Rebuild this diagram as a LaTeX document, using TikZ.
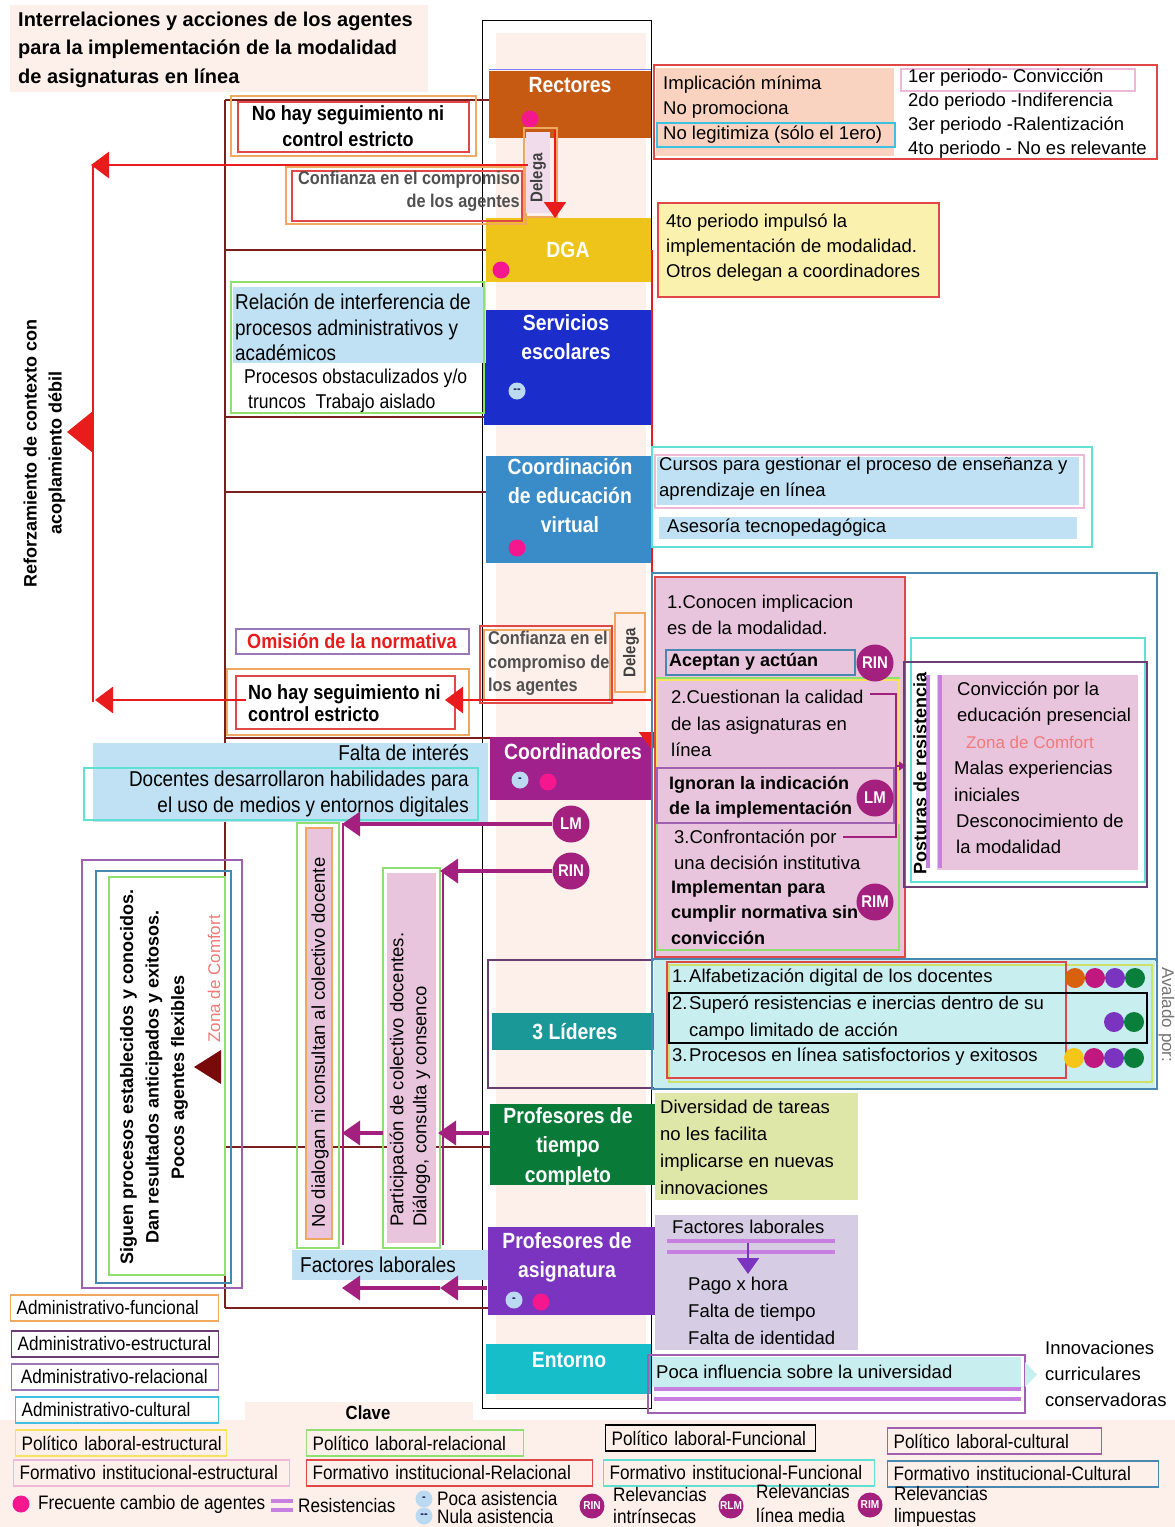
\documentclass[tikz,border=0pt]{standalone}
\usepackage{fontspec}
\setmainfont{Liberation Sans}
\newfontfamily\condfont[FakeStretch=0.88]{Liberation Sans}
\usetikzlibrary{arrows.meta}

% colores de agentes
\definecolor{rectC}{HTML}{C65A12}
\definecolor{dgaC}{HTML}{EEC41A}
\definecolor{servC}{HTML}{1B2ECB}
\definecolor{cevC}{HTML}{3A8CC8}
\definecolor{coordC}{HTML}{A0208C}
\definecolor{lidC}{HTML}{1A9898}
\definecolor{ptcC}{HTML}{0A7A38}
\definecolor{paC}{HTML}{7A34C0}
\definecolor{entC}{HTML}{16BECA}
% rellenos
\definecolor{peachbg}{HTML}{FDF0EA}
\definecolor{peachfill}{HTML}{FAD3C0}
\definecolor{lblue}{HTML}{BFE1F3}
\definecolor{lcyan}{HTML}{C9EEF0}
\definecolor{pinkfill}{HTML}{E8C5DD}
\definecolor{yelfill}{HTML}{FBF1AE}
\definecolor{olivefill}{HTML}{DEE6A8}
\definecolor{lavfill}{HTML}{D6CDE4}
% lineas y marcas
\definecolor{maroonC}{HTML}{7A1E1E}
\definecolor{redC}{HTML}{E81C1C}
\definecolor{relC}{HTML}{A3207E}
\definecolor{resC}{HTML}{C880E0}
\definecolor{pinkdot}{HTML}{F5178E}
\definecolor{asisC}{HTML}{BCD9F2}
\definecolor{comfortC}{HTML}{F07A7A}
\definecolor{triC}{HTML}{7A0A0A}
\definecolor{greyT}{HTML}{505050}
\definecolor{dotO}{HTML}{D8600E}
\definecolor{dotM}{HTML}{C0187F}
\definecolor{dotP}{HTML}{7A34C0}
\definecolor{dotG}{HTML}{0A7F3C}
\definecolor{dotY}{HTML}{F5C518}
% clave
\definecolor{afunC}{HTML}{F0A860}
\definecolor{aestC}{HTML}{6A3E72}
\definecolor{arelC}{HTML}{9A78B8}
\definecolor{acultC}{HTML}{40C0E0}
\definecolor{pestC}{HTML}{F8E060}
\definecolor{prelC}{HTML}{90E070}
\definecolor{pcultC}{HTML}{A060B0}
\definecolor{festC}{HTML}{F0B8D8}
\definecolor{frelC}{HTML}{E04848}
\definecolor{ffunC}{HTML}{60E0D0}
\definecolor{fcultC}{HTML}{4888B0}

\newcommand\ttext{\bfseries\fontsize{20}{28.5}\selectfont}
\newcommand\rtext[1][25.5]{\fontsize{18.5}{#1}\selectfont}
\newcommand\btext[1][25.5]{\bfseries\fontsize{18}{#1}\selectfont}
\newcommand\ctext[1][25.5]{\condfont\fontsize{21.5}{#1}\selectfont}
\newcommand\cbtext[1][26]{\condfont\bfseries\fontsize{20.5}{#1}\selectfont}
\newcommand\gbtext[1][23]{\condfont\bfseries\fontsize{18.5}{#1}\selectfont}
\newcommand\atext[1][29]{\condfont\bfseries\fontsize{22}{#1}\selectfont}
\newcommand\ltext[1][24]{\condfont\fontsize{19.5}{#1}\selectfont}

\tikzset{
  txt/.style={inner sep=0pt, anchor=west, align=left, font=\rtext},
  vtxt/.style={rotate=90, inner sep=0pt, anchor=west, align=left, font=\rtext},
  fr/.style={draw=#1, line width=1.3pt},
  agentbox/.style={fill=#1, inner sep=0pt, outer sep=0pt, anchor=north west},
  agentlbl/.style={inner sep=0pt, align=center, text=white, font=\atext},
  agdot/.style={circle, fill=#1, inner sep=0pt, minimum size=17pt},
  asis/.style={circle, fill=asisC, inner sep=0pt, minimum size=17pt,
    text=black!75!blue, font=\bfseries\fontsize{11}{11}\selectfont},
  rel/.style={circle, fill=relC, text=white, inner sep=0pt, minimum size=37pt,
    font=\condfont\bfseries\fontsize{17}{17}\selectfont},
  relk/.style={rel, minimum size=25pt, font=\condfont\bfseries\fontsize{11.5}{12}\selectfont},
  redarr/.style={draw=redC, line width=2.8pt, -{Triangle[width=26pt,length=18pt]}},
  purarr/.style={draw=relC, line width=3.5pt, -{Triangle[width=24pt,length=18pt]}},
  resist/.style={draw=resC, line width=3.2pt},
  keyb/.style={draw=#1, line width=1.2pt, anchor=west, inner xsep=6pt, inner ysep=0pt,
    minimum height=26pt, align=left, font=\ltext},
}

\begin{document}
\begin{tikzpicture}[x=1pt, y=-1pt]
\useasboundingbox (0,0) rectangle (1175,1527);
\fill[white] (0,0) rectangle (1175,1527);

% fondos
\fill[peachbg] (10,5) rectangle (428,92);
\fill[peachbg] (496,33) rectangle (646,1400);
\fill[peachbg] (0,1420) rectangle (1175,1527);
\fill[peachbg] (245,1402) rectangle (473,1420);

\node[txt, font=\ttext] (titulo) at (18,49.5)
  {Interrelaciones y acciones de los agentes\\para la implementación de la modalidad\\de asignaturas en línea};

% columna de agentes
\draw[black, line width=1pt] (482,20) rectangle (651,1408);
\node[agentbox=rectC, minimum width=162pt, minimum height=67pt] (rect) at (489,71) {};
\draw[blue!50, line width=1pt] (489,69) -- (651,69);
\node[agentbox=dgaC, minimum width=165pt, minimum height=64pt] (dga) at (486,218) {};
\node[agentbox=servC, minimum width=167pt, minimum height=115pt] (serv) at (484,310) {};
\node[agentbox=cevC, minimum width=165pt, minimum height=107pt] (cev) at (486,456) {};
\node[agentbox=coordC, minimum width=163pt, minimum height=63pt] (coord) at (490,737) {};
\draw[aestC, line width=1.3pt] (488,960) rectangle (656,1088);
\node[agentbox=lidC, minimum width=164pt, minimum height=37pt] (lid) at (492,1013) {};
\node[agentbox=ptcC, minimum width=166pt, minimum height=81pt] (ptc) at (490,1104) {};
\node[agentbox=paC, minimum width=168pt, minimum height=88pt] (pa) at (488,1227) {};
\node[agentbox=entC, minimum width=165pt, minimum height=50pt] (ent) at (486,1344) {};

\node[agentlbl] (rectL) at (570,85) {Rectores};
\node[agentlbl] (dgaL) at (568,250) {DGA};
\node[agentlbl] (servL) at (566,337.5) {Servicios\\escolares};
\node[agentlbl] (cevL) at (570,496) {Coordinación\\de educación\\virtual};
\node[agentlbl] (coordL) at (573,752) {Coordinadores};
\node[agentlbl] (lidL) at (575,1032) {3 Líderes};
\node[agentlbl, font={\atext[29.5]}] (ptcL) at (568,1147) {Profesores de\\tiempo\\completo};
\node[agentlbl] (paL) at (567,1257.5) {Profesores de\\asignatura};
\node[agentlbl] (entL) at (569,1360) {Entorno};

\node[agdot=pinkdot] (rectD) at (530,119) {};
\node[agdot=pinkdot] (dgaD) at (501,270) {};
\node[asis] (servD) at (517,391) {-{}-};
\node[agdot=pinkdot] (cevD) at (517,548) {};
\node[asis] (coordA) at (520,780) {-};
\node[agdot=pinkdot] (coordD) at (548,782) {};
\node[asis] (paA) at (514,1300) {-};
\node[agdot=pinkdot] (paD) at (541,1302) {};

% marco de contexto
\coordinate (m1) at (225,100);
\coordinate (m2) at (225,250);
\coordinate (m3) at (225,417);
\coordinate (m4) at (225,492);
\coordinate (m5) at (225,738);
\coordinate (m6) at (225,1147);
\coordinate (m7) at (225,1308);
\draw[maroonC, line width=1.4pt] (m1) -- (m7);
\draw[maroonC, line width=1.4pt] (m1) -- (m1 -| rect.west);
\draw[maroonC, line width=1.4pt] (m2) -- (m2 -| dga.west);
\draw[maroonC, line width=1.4pt] (m3) -- (m3 -| serv.west);
\draw[maroonC, line width=1.4pt] (m4) -- (m4 -| cev.west);
\draw[maroonC, line width=1.4pt] (m5) -- (m5 -| coord.west);
\draw[maroonC, line width=1.4pt] (m6) -- (m6 -| ptc.west);
\draw[maroonC, line width=1.4pt] (m7) -- (m7 -| pa.west);

% lado izquierdo
\draw[fr=afunC] (231,96) rectangle (476,156);
\draw[fr=frelC] (238,102) rectangle (469,152);
\node[align=center, inner sep=0pt, font=\cbtext] (seg1) at (348,126) {No hay seguimiento ni\\control estricto};

\draw[fr=afunC] (286,167) rectangle (526,224);
\draw[fr=frelC] (292,171) rectangle (522,221);
\node[anchor=east, align=right, inner sep=0pt, text=greyT, font=\gbtext] (conf1) at (520,191.5)
  {Confianza en el compromiso\\de los agentes};
\fill[pinkfill!60] (526,132) rectangle (550,213);
\draw[fr=afunC] (524,128) rectangle (557,217);
\node[rotate=90, inner sep=0pt, text=greyT!80!black, font=\condfont\bfseries\fontsize{17}{17}\selectfont] (del1) at (538,178) {Delega};

\fill[lblue] (233,287) rectangle (486,363);
\draw[fr=prelC] (231,282) rectangle (484,413);
\node[txt, font=\ctext] (inter) at (235,327.5) {Relación de interferencia de\\procesos administrativos y\\académicos};
\node[txt, font=\condfont\fontsize{20}{25}\selectfont] (obst) at (244,390.5) {Procesos obstaculizados y/o\\\hspace*{4pt}truncos\ \ Trabajo aislado};

\draw[fr=arelC] (236,629) rectangle (469,654);
\node[inner sep=0pt, text=redC, font=\cbtext] (omis) at (352,641) {Omisión de la normativa};

\draw[fr=afunC] (227,669) rectangle (469,735);
\draw[fr=frelC] (236,676) rectangle (455,729);
\node[txt, font={\cbtext[22]}] (seg2) at (248,703) {No hay seguimiento ni\\control estricto};

\draw[fr=frelC] (480,626) rectangle (612,703);
\draw[fr=afunC] (484,630) rectangle (610,700);
\node[txt, text=greyT, font={\gbtext[23.5]}] (conf2) at (488,663.5) {Confianza en el\\compromiso de\\los agentes};
\draw[fr=afunC] (615,613) rectangle (645,692);
\node[rotate=90, inner sep=0pt, text=greyT!80!black, font=\condfont\bfseries\fontsize{17}{17}\selectfont] (del2) at (631,653) {Delega};

\fill[lblue] (93,743) rectangle (488,822);
\draw[fr=ffunC] (84,768) rectangle (478,820);
\node[anchor=east, align=right, inner sep=0pt, font={\ctext[26]}] (falta) at (469,781)
  {Falta de interés\\Docentes desarrollaron habilidades para\\el uso de medios y entornos digitales};

% colectivo docente
\draw[fr=prelC] (297,823) rectangle (339,1248);
\fill[pinkfill] (306,828) rectangle (332,1239);
\draw[fr=afunC] (306,828) rectangle (332,1239);
\draw[relC, line width=2pt] (343,823) -- (343,1245);
\node[vtxt] (nodial) at (320,1228) {No dialogan ni consultan al colectivo docente};

\draw[fr=prelC] (383,868) rectangle (440,1248);
\fill[pinkfill] (387,873) rectangle (436,1243);
\draw[relC, line width=2pt] (443,870) -- (443,1245);
\node[vtxt, font={\rtext[23]}] (partic) at (410,1227) {Participación de colectivo docentes.\\Diálogo, consulta y consenco};

\fill[lblue] (292,1250) rectangle (488,1280);
\node[txt, font=\ctext] (factL) at (300,1265) {Factores laborales};

\draw[fr=pcultC] (82,860) rectangle (242,1288);
\draw[fr=fcultC] (96,871) rectangle (231,1283);
\draw[fr=prelC] (109,877) rectangle (225,1275);
\node[rotate=90, align=center, inner sep=0pt, font=\bfseries\fontsize{18}{25.5}\selectfont] (sig) at (154,1077)
  {Siguen procesos establecidos y conocidos.\\Dan resultados anticipados y exitosos.\\Pocos agentes flexibles};
\node[rotate=90, inner sep=0pt, text=comfortC, font=\fontsize{17}{17}\selectfont] (zona1) at (214,979) {Zona de Comfort};
\fill[triC] (194,1067) -- (221,1050) -- (221,1084) -- cycle;

\node[rotate=90, align=center, inner sep=0pt, font=\bfseries\fontsize{18}{25}\selectfont] (refz) at (44.5,453)
  {Reforzamiento de contexto con\\acoplamiento débil};

% flechas rojas
\coordinate (rA) at (528,165);
\coordinate (rB) at (91,165);
\coordinate (rV) at (93,165);
\coordinate (rW) at (93,702);
\coordinate (rC) at (652,250);
\coordinate (rD) at (652,750);
\coordinate (rE) at (652,700);
\coordinate (rF) at (445,700);
\coordinate (rG) at (246,700);
\coordinate (rH) at (95,700);
\coordinate (dA) at (555,130);
\coordinate (dB) at (555,218);
\draw[redC, line width=2.8pt] (rV) -- (rW);
\fill[redC] (67,432) -- (93,411) -- (93,453) -- cycle;
\draw[redarr] (rA) -- (rB);
\draw[redarr, line width=2pt, -{Triangle[width=22pt,length=16pt]}] (dA) -- (dB);
\draw[redarr] (rC) -- (rD);
\draw[redarr] (rE) -- (rF);
\draw[redarr] (rG) -- (rH);

% flechas moradas
\node[rel] (lmB) at (571,824) {LM};
\node[rel] (rinB) at (571,871) {RIN};
\coordinate (lmT) at (342,824);
\coordinate (rinT) at (440,871);
\draw[purarr] (lmB) -- (lmT);
\draw[purarr] (rinB) -- (rinT);
\coordinate (tcA) at (489,1133);
\coordinate (tcB) at (438,1133);
\coordinate (tcC) at (383,1133);
\coordinate (tcD) at (342,1133);
\draw[purarr] (tcA) -- (tcB);
\draw[purarr] (tcC) -- (tcD);
\coordinate (asA) at (487,1288);
\coordinate (asB) at (440,1288);
\coordinate (asC) at (342,1288);
\draw[purarr] (asA) -- (asB);
\draw[purarr] (asB) -- (asC);

% Rectores
\fill[peachfill] (656,68) rectangle (894,156);
\draw[fr=frelC] (654,65) rectangle (1157,159);
\draw[fr=acultC] (657,123) rectangle (895,147);
\draw[fr=festC] (901,69) rectangle (1135,91);
\node[txt, font={\rtext[25]}] (recN) at (663,110) {Implicación mínima\\No promociona\\No legitimiza (sólo el 1ero)};
\node[txt, font={\rtext[24]}] (perN) at (908,114) {1er periodo- Convicción\\2do periodo -Indiferencia\\3er periodo -Ralentización\\4to periodo - No es relevante};

% DGA
\fill[yelfill] (658,203) rectangle (939,297);
\draw[fr=frelC] (658,203) rectangle (939,297);
\node[txt, font={\rtext[25]}] (dgaN) at (666,248) {4to periodo impulsó la\\implementación de modalidad.\\Otros delegan a coordinadores};

% Coordinacion de educacion virtual
\draw[fr=ffunC] (652,447) rectangle (1092,547);
\fill[lblue] (657,457) rectangle (1079,505);
\draw[fr=festC] (655,455) rectangle (1084,508);
\fill[lblue] (659,517) rectangle (1077,539);
\node[txt, font={\rtext[26.5]}] (cevN) at (659,478.5) {Cursos para gestionar el proceso de enseñanza y\\aprendizaje en línea};
\node[txt] (aseN) at (667,528) {Asesoría tecnopedagógica};

% Coordinadores
\draw[fr=fcultC] (652,573) rectangle (1157,960);
\fill[pinkfill] (655,577) rectangle (905,957);
\draw[fr=frelC] (655,577) rectangle (905,957);
\draw[fr=prelC] (657,678) rectangle (899,950);
\draw[fr=pestC] (657,680) rectangle (899,823);
\draw[fr=fcultC] (666,650) rectangle (855,675);
\draw[fr=pcultC] (657,768) rectangle (894,823);
\node[txt, font={\rtext[26]}] (co1) at (667,615) {1.Conocen implicacion\\es de la modalidad.};
\node[txt, font=\btext] (co1b) at (669,662) {Aceptan y actúan};
\node[rel] (rinA) at (875,663) {RIN};
\node[txt, font={\rtext[26.5]}] (co2) at (671,723.5) {2.Cuestionan la calidad\\de las asignaturas en\\línea};
\node[txt, font={\btext[25]}] (co2b) at (669,797.5) {Ignoran la indicación\\de la implementación};
\node[rel] (lmA) at (875,798) {LM};
\node[txt, font={\rtext[26]}] (co3) at (674,850) {3.Confrontación por\\una decisión institutiva};
\node[txt, font={\btext[25.5]}] (co3b) at (671,912.5) {Implementan para\\cumplir normativa sin\\convicción};
\node[rel] (rimA) at (875,902) {RIM};
\coordinate (bk1) at (870,694);
\coordinate (bk2) at (896,694);
\coordinate (bk3) at (896,837);
\coordinate (bk4) at (843,837);
\coordinate (bk5) at (896,766);
\coordinate (bk6) at (906,766);
\draw[relC, line width=1.3pt] (bk1) -- (bk2) -- (bk3) -- (bk4);
\draw[relC, line width=1.3pt, -{Triangle[width=9pt,length=7pt]}] (bk5) -- (bk6);

% posturas de resistencia
\draw[fr=ffunC] (911,638) rectangle (1145,882);
\draw[fr=aestC] (904,662) rectangle (1147,887);
\fill[pinkfill] (937,675) rectangle (1138,870);
\draw[resist] (928,675) -- (928,868);
\draw[resist] (940,675) -- (940,868);
\node[rotate=90, inner sep=0pt, font=\bfseries\fontsize{18}{18}\selectfont] (post) at (920,773) {Posturas de resistencia};
\node[txt, font={\rtext[26]}] (po1) at (957,704) {Convicción por la\\educación presencial};
\node[txt, text=comfortC, font=\fontsize{17}{17}\selectfont] (zona2) at (966,742) {Zona de Comfort};
\node[txt, font={\rtext[27]}] (po2) at (954,781.5) {Malas experiencias\\iniciales};
\node[txt, font={\rtext[26]}] (po3) at (956,834) {Desconocimiento de\\la modalidad};

% 3 lideres
\fill[lcyan] (654,960) rectangle (1155,1088);
\draw[fr=fcultC] (652,959) rectangle (1157,1089);
\draw[fr=pestC!60!prelC] (669,965) rectangle (1152,1082);
\draw[fr=frelC] (667,962) rectangle (1066,1078);
\draw[black, line width=1.3pt] (669,993) rectangle (1147,1043);
\node[txt] (li1) at (672,978) {\makebox[17pt][l]{1.}Alfabetización digital de los docentes};
\node[txt, font={\rtext[27]}] (li2) at (672,1018.5) {\makebox[17pt][l]{2.}Superó resistencias e inercias dentro de su\\\hspace*{17pt}campo limitado de acción};
\node[txt] (li3) at (672,1057) {\makebox[17pt][l]{3.}Procesos en línea satisfoctorios y exitosos};
\foreach \cx/\cc in {1075/dotO,1095/dotM,1115/dotP,1135/dotG}
  \node[agdot=\cc, minimum size=20pt] (ra\cx) at (\cx,978) {};
\foreach \cx/\cc in {1114/dotP,1134/dotG}
  \node[agdot=\cc, minimum size=20pt] (rb\cx) at (\cx,1022) {};
\foreach \cx/\cc in {1074/dotY,1094/dotM,1114/dotP,1134/dotG}
  \node[agdot=\cc, minimum size=20pt] (rc\cx) at (\cx,1058) {};
\node[rotate=-90, anchor=base west, inner sep=0pt, text=black!55, font=\fontsize{17}{17}\selectfont] (aval) at (1162,967) {Avalado por:};

% profesores de tiempo completo
\fill[olivefill] (655,1093) rectangle (858,1200);
\node[txt, font={\rtext[27]}] (ptcN) at (660,1147.5) {Diversidad de tareas\\no les facilita\\implicarse en nuevas\\innovaciones};

% profesores de asignatura
\fill[lavfill] (655,1215) rectangle (858,1350);
\node[txt] (paN) at (672,1227) {Factores laborales};
\draw[resist] (667,1241) -- (835,1241);
\draw[resist] (667,1252) -- (835,1252);
\coordinate (fA) at (748,1243);
\coordinate (fB) at (748,1274);
\draw[paC, line width=2.2pt, -{Triangle[width=22pt,length=16pt]}] (fA) -- (fB);
\node[txt, font={\rtext[27]}] (paM) at (688,1310.5) {Pago x hora\\Falta de tiempo\\Falta de identidad};

% entorno
\fill[lcyan] (652,1357) rectangle (1021,1387);
\draw[resist] (654,1389) -- (1021,1389);
\draw[resist] (654,1399) -- (1021,1399);
\draw[fr=pcultC] (648,1355) rectangle (1025,1413);
\node[txt] (entN) at (656,1372) {Poca influencia sobre la universidad};
\fill[lcyan] (1025,1362) -- (1037,1374.5) -- (1025,1387) -- cycle;
\node[txt, font={\rtext[26]}] (innN) at (1045,1374) {Innovaciones\\curriculares\\conservadoras};

% clave
\node[inner sep=0pt, font=\condfont\bfseries\fontsize{19}{19}\selectfont] (clave) at (368,1413) {Clave};
\node[keyb=afunC, text width=196pt] (k1) at (10,1308) {\mbox{Administrativo-funcional}};
\node[keyb=aestC, text width=195pt] (k2) at (11,1344) {\mbox{Administrativo-estructural}};
\node[keyb=arelC, text width=195pt] (k3) at (11,1377) {\mbox{\,Administrativo-relacional}};
\node[keyb=acultC, text width=191pt] (k4) at (15,1410) {\mbox{Administrativo-cultural}};
\node[keyb=pestC, text width=199pt] (k5) at (15,1443) {\mbox{Político laboral-estructural}};
\node[keyb=prelC, text width=205pt] (k6) at (306,1443) {\mbox{Político laboral-relacional}};
\node[keyb=black, text width=198pt] (k7) at (605,1438) {\mbox{Político laboral-Funcional}};
\node[keyb=pcultC, text width=202pt] (k8) at (887,1441) {\mbox{Político laboral-cultural}};
\node[keyb=festC, text width=264pt] (k9) at (13,1473) {\mbox{Formativo institucional-estructural}};
\node[keyb=frelC, text width=274pt] (k10) at (306,1473) {\mbox{Formativo institucional-Relacional}};
\node[keyb=ffunC, text width=259pt] (k11) at (603,1473) {\mbox{Formativo institucional-Funcional}};
\node[keyb=fcultC, text width=259pt] (k12) at (887,1474) {\mbox{Formativo institucional-Cultural}};

\node[agdot=pinkdot] (kd) at (21,1504) {};
\node[txt, font=\ltext] (kdT) at (38,1504) {Frecuente cambio de agentes};
\draw[resist] (271,1501) -- (293,1501);
\draw[resist] (271,1510) -- (293,1510);
\node[txt, font=\ltext] (krT) at (298,1506) {Resistencias};
\node[asis] (ka1) at (424,1499) {-};
\node[txt, font={\ltext[17.5]}] (ka1T) at (437,1507.5) {Poca asistencia\\Nula asistencia};
\node[asis] (ka2) at (424,1516) {-{}-};
\node[relk] (kr1) at (592,1506) {RIN};
\node[txt, font={\ltext[22]}] (kr1T) at (613,1506) {Relevancias\\intrínsecas};
\node[relk] (kr2) at (731,1506) {RLM};
\node[txt, font={\ltext[24]}] (kr2T) at (756,1504) {Relevancias\\línea media};
\node[relk] (kr3) at (870,1505) {RIM};
\node[txt, font={\ltext[22]}] (kr3T) at (894,1506) {Relevancias\\limpuestas};
\end{tikzpicture}
\end{document}
